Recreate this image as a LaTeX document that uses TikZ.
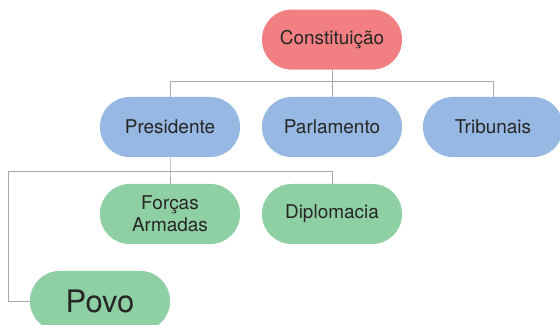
\documentclass[tikz,border=0pt]{standalone}
\usepackage{fontspec}
\setmainfont{TeX Gyre Heros}
\usepackage{tikz}

\definecolor{rosa}{RGB}{242,128,130}
\definecolor{azul}{RGB}{150,184,226}
\definecolor{verde}{RGB}{143,207,164}
\definecolor{fio}{RGB}{168,168,168}

\tikzset{
  caixa/.style={rounded corners=.74cm, minimum width=3.5cm, minimum height=1.5cm,
    align=center, text=black!85, font=\fontsize{13.5}{15.5}\selectfont},
  ligacao/.style={draw=fio, line width=.7pt}
}

\begin{document}
\begin{tikzpicture}
\useasboundingbox (0,0) rectangle (14,-8.125);
\node[caixa, fill=rosa] (const) at (8.3,-.99) {Constitui\c{c}\~ao};
\node[caixa, fill=azul] (pres) at (4.25,-3.175) {Presidente};
\node[caixa, fill=azul] (parl) at (8.3,-3.175) {Parlamento};
\node[caixa, fill=azul] (trib) at (12.325,-3.175) {Tribunais};
\node[caixa, fill=verde] (forcas) at (4.25,-5.35) {For\c{c}as\\Armadas};
\node[caixa, fill=verde] (dipl) at (8.3,-5.35) {Diplomacia};
\node[caixa, fill=verde, font=\fontsize{22}{24}\selectfont] (povo) at (2.5,-7.525) {Povo};
% barramentos
\coordinate (topo) at (8.3,-2.04);
\coordinate (baixo) at (4.25,-4.275);
\coordinate (canto) at (.2,-4.275);
\draw[ligacao] (const.south) -- (topo);
\draw[ligacao] (pres.north) |- (topo) -| (trib.north);
\draw[ligacao] (topo) -- (parl.north);
\draw[ligacao] (pres.south) -- (baixo) -- (forcas.north);
\draw[ligacao] (povo.west) -| (canto) -| (dipl.north);
\end{tikzpicture}
\end{document}
